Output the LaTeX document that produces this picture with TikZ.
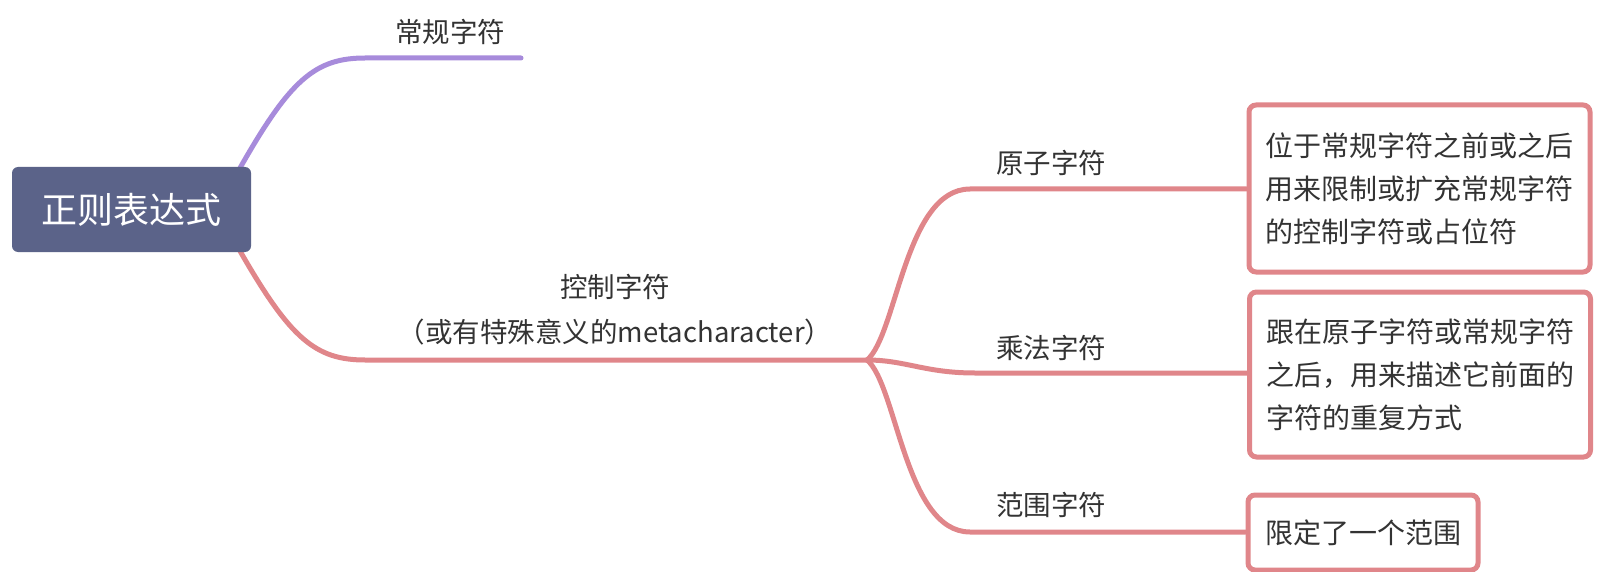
\documentclass[tikz,border=0pt]{standalone}
\usepackage{fontspec}
\setmainfont{Noto Sans CJK SC}
\usetikzlibrary{backgrounds}
\definecolor{rootfill}{HTML}{5B6389}
\definecolor{redline}{HTML}{E0868A}
\definecolor{purpleline}{HTML}{A78BDB}
\definecolor{txt}{HTML}{333333}
\tikzset{
  rootbox/.style={rectangle, rounded corners=6pt, fill=rootfill, text=white, minimum width=239pt, minimum height=85pt, inner sep=0pt, font=\fontsize{36}{40}\selectfont},
  lbl/.style={text=txt, inner sep=0pt, font=\fontsize{27.5}{32}\selectfont},
  descbox/.style={rectangle, rounded corners=7pt, draw=redline, line width=5pt, fill=white, text=txt, align=left, inner sep=0pt, font=\fontsize{28}{43}\selectfont},
  redbranch/.style={draw=redline, line width=5pt, line cap=round},
  purplebranch/.style={draw=purpleline, line width=5pt, line cap=round}
}
\begin{document}
\begin{tikzpicture}[x=1pt,y=-1pt]
\useasboundingbox (0,0) rectangle (1600,572);
% root
\node[rootbox] (root) at (131.5,209.5) {正则表达式};
% first-level labels
\node[lbl] (plain) at (450,32) {常规字符};
\node[lbl] (ctrl1) at (615,287) {控制字符};
\node[lbl] (ctrl2) at (615,332) {（或有特殊意义的metacharacter）};
% second-level labels
\node[lbl] (atom) at (1051,163) {原子字符};
\node[lbl] (mult) at (1051,348) {乘法字符};
\node[lbl] (range) at (1051,505) {范围字符};
% description boxes
\node[descbox, minimum width=341pt, minimum height=167pt] (d1) at (1419.5,188.5) {位于常规字符之前或之后\\用来限制或扩充常规字符\\的控制字符或占位符};
\node[descbox, minimum width=341pt, minimum height=165pt] (d2) at (1420,374.5) {跟在原子字符或常规字符\\之后，用来描述它前面的\\字符的重复方式};
\node[descbox, minimum width=230pt, minimum height=75pt] (d3) at (1363,532.5) {限定了一个范围};
% coordinates
\coordinate (rootTR) at (240,168);
\coordinate (rootBR) at (240,251);
\coordinate (plainEnd) at (521,58);
\coordinate (fork) at (867,360);
% connectors
\begin{scope}[on background layer]
\draw[purplebranch] (rootTR) .. controls (290,80) and (315,58) .. (365,58) -- (plainEnd);
\draw[redbranch] (rootBR) .. controls (290,338) and (315,360) .. (365,360) -- (fork);
\draw[redbranch] (fork) .. controls (897,335) and (905,189) .. (970,189) -- (d1.west |- 0,189);
\draw[redbranch] (fork) .. controls (905,360) and (925,373) .. (975,373) -- (d2.west |- 0,373);
\draw[redbranch] (fork) .. controls (897,385) and (905,532) .. (970,532) -- (d3.west |- 0,532);
\end{scope}
\end{tikzpicture}
\end{document}
